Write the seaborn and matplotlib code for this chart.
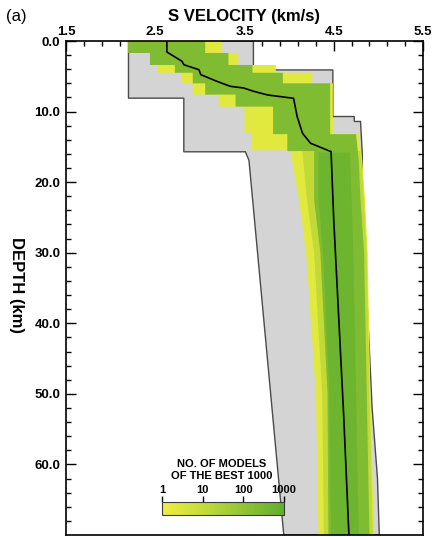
import numpy as np
import matplotlib
matplotlib.use('Agg')
import matplotlib.pyplot as plt
import matplotlib.cm as cm
import seaborn as sns
from matplotlib.colors import LogNorm, LinearSegmentedColormap
from matplotlib.ticker import FixedLocator, FormatStrFormatter

# ---------------- data ----------------
# search bounds (grey envelope): left / right boundaries
search_left_depth = [0, 8.1, 8.1, 15.7, 15.7, 16.9, 70]
search_left_vel = [2.20, 2.20, 2.82, 2.82, 3.51, 3.55, 3.94]
search_right_depth = [0, 4.1, 4.1, 10.7, 10.7, 11.4, 11.4, 16.0, 22.5, 52.0, 62.0, 70]
search_right_vel = [3.60, 3.60, 4.49, 4.49, 4.73, 4.73, 4.80, 4.82, 4.82, 4.93, 4.99, 5.01]

# ensemble of best 1000 models: outer extent (few models)
outer_left_depth = [0, 1.7, 1.7, 3.4, 3.4, 4.5, 4.5, 6.0, 6.0, 7.6, 7.6, 9.3, 9.3,
                    13.0, 13.0, 15.5, 15.5, 16.0, 22.5, 30.0, 50.0, 70]
outer_left_vel = [2.20, 2.20, 2.44, 2.44, 2.53, 2.53, 2.80, 2.80, 2.92, 2.92, 3.21, 3.21, 3.50,
                  3.50, 3.58, 3.58, 4.02, 4.02, 4.11, 4.19, 4.30, 4.33]
outer_right_depth = [0, 1.7, 1.7, 3.4, 3.4, 4.5, 4.5, 6.0, 6.0, 13.2, 13.2, 17.0, 22.5, 30.0, 50.0, 70]
outer_right_vel = [3.25, 3.25, 3.43, 3.43, 3.85, 3.85, 4.26, 4.26, 4.49, 4.49, 4.78, 4.82, 4.85, 4.88, 4.91, 4.95]

# intermediate density (lower crust, yellow-green transition)
mid_left_depth = [15.6, 16.0, 22.5, 30.0, 50.0, 70]
mid_left_vel = [4.15, 4.15, 4.20, 4.28, 4.37, 4.39]
mid_right_depth = [15.6, 17.0, 22.5, 30.0, 50.0, 70]
mid_right_vel = [4.80, 4.81, 4.84, 4.87, 4.90, 4.94]

# core of the ensemble (many models)
core_left_depth = [0, 1.7, 1.7, 3.4, 3.4, 4.5, 4.5, 6.0, 6.0, 7.6, 7.6, 9.3, 9.3, 13.2, 13.2,
                   15.6, 15.6, 17.0, 22.5, 30.0, 50.0, 70]
core_left_vel = [2.20, 2.20, 2.44, 2.44, 2.72, 2.72, 2.92, 2.92, 3.06, 3.06, 3.40, 3.40, 3.82,
                 3.82, 3.98, 3.98, 4.28, 4.28, 4.28, 4.35, 4.43, 4.44]
core_right_depth = [0, 1.7, 1.7, 3.4, 3.4, 4.5, 4.5, 6.0, 6.0, 13.2, 13.2, 17.0, 22.5, 30.0, 50.0, 70]
core_right_vel = [3.06, 3.06, 3.32, 3.32, 3.59, 3.59, 3.93, 3.93, 4.46, 4.46, 4.75, 4.78, 4.80, 4.84, 4.87, 4.90]

# densest part (lower crust)
dense_left_depth = [15.8, 22.5, 30.0, 50.0, 70]
dense_left_vel = [4.33, 4.33, 4.38, 4.45, 4.47]
dense_right_depth = [15.8, 22.5, 30.0, 50.0, 70]
dense_right_vel = [4.68, 4.70, 4.72, 4.75, 4.78]

band_counts = [2, 12, 220, 500]

# best model
best_depth = [0, 1.56, 2.88, 3.36, 4.07, 4.77, 5.71, 6.42, 6.66, 7.12, 7.65, 8.12,
              10.72, 13.07, 14.49, 15.68, 25.35, 52.7, 70]
best_vel = [2.63, 2.63, 2.80, 2.82, 2.99, 3.01, 3.19, 3.34, 3.49, 3.60, 3.76, 4.05,
            4.09, 4.15, 4.24, 4.47, 4.50, 4.61, 4.67]

x_major = [1.5, 2.5, 3.5, 4.5, 5.5]
y_major = [0, 10, 20, 30, 40, 50, 60]
cbar_ticks = [1, 10, 100, 1000]
cbar_labels = ['1', '10', '100', '1000']

# ---------------- style ----------------
sns.set_theme(style='ticks')
plt.rcParams['font.family'] = ['Liberation Sans', 'DejaVu Sans']
plt.rcParams['font.weight'] = 'bold'
plt.rcParams['text.color'] = 'black'
plt.rcParams['axes.edgecolor'] = 'black'
plt.rcParams['xtick.color'] = 'black'
plt.rcParams['ytick.color'] = 'black'

cmap = LinearSegmentedColormap.from_list(
    'ygr', ['#eeee40', '#c6dc38', '#92c433', '#5eae2e'])
norm = LogNorm(vmin=1, vmax=1000)

fig = plt.figure(figsize=(4.38, 5.37), dpi=100)
ax = fig.add_axes([66 / 438, 2 / 537, 357 / 438, 494 / 537])


def poly(ld, lv, rd, rv):
    xs = np.r_[np.asarray(lv), np.asarray(rv)[::-1]]
    ys = np.r_[np.asarray(ld), np.asarray(rd)[::-1]]
    return xs, ys


xs, ys = poly(search_left_depth, search_left_vel, search_right_depth, search_right_vel)
ax.fill(xs, ys, facecolor='#d4d4d4', edgecolor='#4a4a4a', lw=1.0, zorder=1)

bands = [
    (outer_left_depth, outer_left_vel, outer_right_depth, outer_right_vel),
    (mid_left_depth, mid_left_vel, mid_right_depth, mid_right_vel),
    (core_left_depth, core_left_vel, core_right_depth, core_right_vel),
    (dense_left_depth, dense_left_vel, dense_right_depth, dense_right_vel),
]
for (ld, lv, rd, rv), cnt in zip(bands, band_counts):
    xs, ys = poly(ld, lv, rd, rv)
    ax.fill(xs, ys, facecolor=cmap(norm(cnt)), edgecolor='none', zorder=2)

sns.lineplot(x=best_vel, y=best_depth, sort=False, estimator=None,
             color='black', lw=1.2, ax=ax, zorder=3)

ax.set_xlim(1.5, 5.5)
ax.set_ylim(70, 0)
ax.set_xlabel('')
ax.set_ylabel('')
ax.xaxis.set_major_locator(FixedLocator(x_major))
ax.xaxis.set_minor_locator(FixedLocator(np.arange(1.5, 5.51, 0.2)))
ax.yaxis.set_major_locator(FixedLocator(y_major))
ax.yaxis.set_minor_locator(FixedLocator(np.arange(0, 69, 2)))
ax.xaxis.set_major_formatter(FormatStrFormatter('%.1f'))
ax.yaxis.set_major_formatter(FormatStrFormatter('%.1f'))

ax.tick_params(axis='both', which='both', direction='in', width=1.0, colors='black')
ax.tick_params(axis='both', which='major', length=7, labelsize=9.5)
ax.tick_params(axis='both', which='minor', length=3.5)
ax.tick_params(axis='x', which='both', top=True, bottom=False, labeltop=True,
               labelbottom=False, pad=2)
ax.tick_params(axis='y', which='both', left=True, right=True, labelleft=True,
               labelright=False, pad=4)
for s in ax.spines.values():
    s.set_linewidth(1.2)
    s.set_color('black')
    s.set_zorder(5)

# colour bar
cax = fig.add_axes([162 / 438, (537 - 515) / 537, 122 / 438, 13 / 537])
cb = fig.colorbar(cm.ScalarMappable(norm=norm, cmap=cmap), cax=cax,
                  orientation='horizontal', ticks=cbar_ticks)
cax.xaxis.set_ticks_position('top')
cb.set_ticklabels(cbar_labels)
cax.minorticks_off()
cax.tick_params(axis='x', which='major', direction='out', length=4, width=1,
                pad=1, labelsize=8, colors='black')
cb.outline.set_edgecolor('#3a3a3a')
cb.outline.set_linewidth(0.8)
fig.text(222 / 438, 1 - 470 / 537, 'NO. OF MODELS\nOF THE BEST 1000',
         ha='center', va='center', fontsize=8, fontweight='bold', linespacing=1.15)

fig.text(244 / 438, 1 - 16 / 537, 'S VELOCITY (km/s)', ha='center', va='center',
         fontsize=12, fontweight='bold')
fig.text(6 / 438, 1 - 16 / 537, '(a)', ha='left', va='center', fontsize=12,
         fontweight='normal')
fig.text(16 / 438, 1 - 285 / 537, 'DEPTH (km)', rotation=270, ha='center',
         va='center', fontsize=12, fontweight='bold')

fig.savefig('out.png', dpi=100)
